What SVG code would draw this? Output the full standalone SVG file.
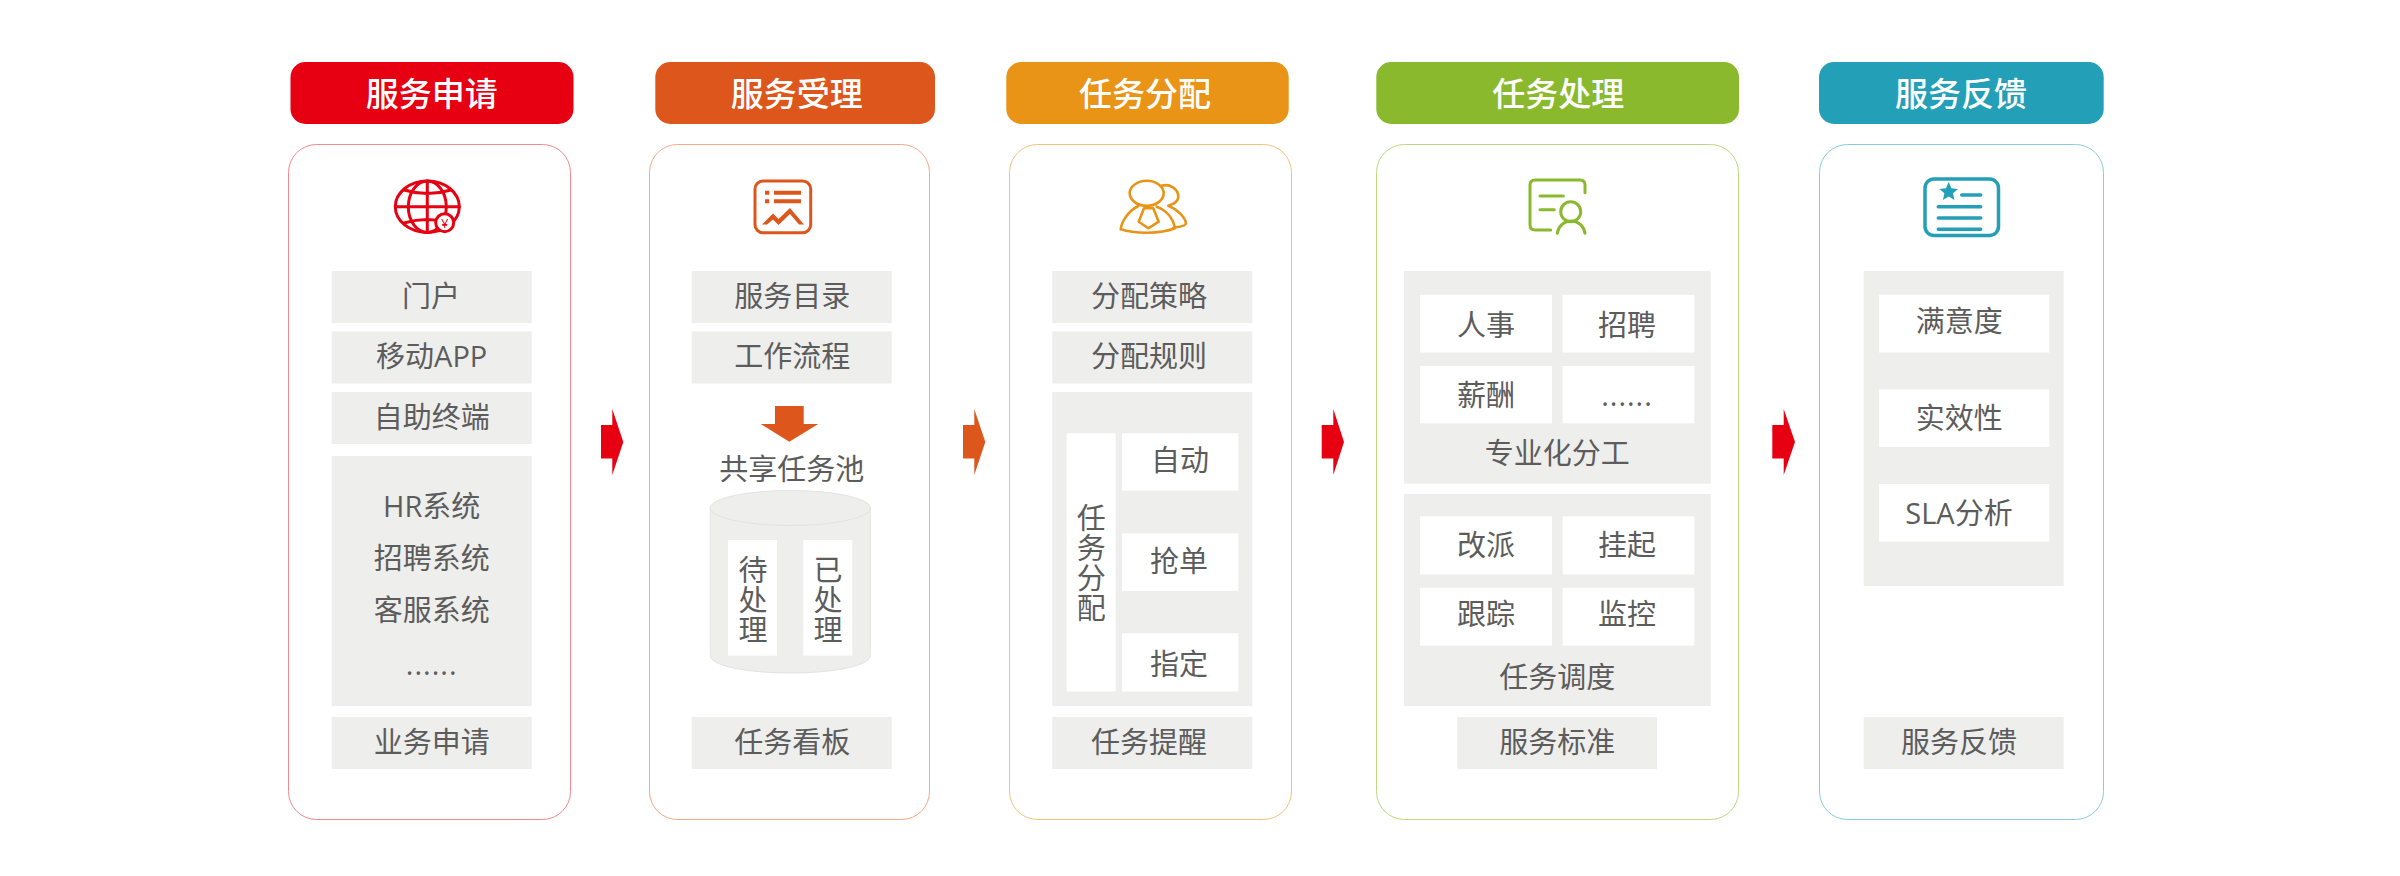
<svg xmlns="http://www.w3.org/2000/svg" width="2400" height="876" viewBox="0 0 2400 876">
<style>
text{font-family:"Open Sans","Noto Sans CJK SC","Noto Sans CJK TC",sans-serif;text-anchor:middle}
.t{font-size:29px;fill:#5c5c5c;font-weight:400}
.v{writing-mode:vertical-rl;letter-spacing:1px}
.d{letter-spacing:1px}
.h{font-size:33px;fill:#fff;font-weight:500}
.g{fill:#eeeeed}
.w{fill:#fff}
.card{fill:#fff;stroke-width:1}
.ic{fill:none;stroke-width:3;stroke-linecap:round;stroke-linejoin:round}
</style>
<rect width="2400" height="876" fill="#fff"/>
<g id="connectors">
<path fill="#e60012" d="M601 425H612.3V409L623.3 442L612.3 475V458.5H601Z"/>
<path fill="#dd561c" d="M963 425H974.3V409L985.3 442L974.3 475V458.5H963Z"/>
<path fill="#e60012" d="M1321.7 425H1333.3V409L1344 442L1333.3 475V458.5H1321.7Z"/>
<path fill="#e60012" d="M1772.3 425H1783.7V409L1795 442L1783.7 475V458.5H1772.3Z"/>
</g>
<g id="col1">
<rect x="290.500" y="62" width="283" height="62" rx="15" fill="#e60012"/>
<text class="h" x="431.700" y="105.500">服务申请</text>
<rect class="card" x="288.500" y="144.500" width="282" height="675" rx="28" stroke="#f08a90"/>
<g class="ic" stroke="#e60012">
<ellipse cx="427.300" cy="206.700" rx="32" ry="25.700"/>
<ellipse cx="427.300" cy="206.700" rx="19" ry="25.700"/>
<path d="M427.300 181V232.400M395.300 206.700H459.300M404 190Q427.300 197 451 190M404 223Q427.300 216 451 223"/>
<circle cx="444.700" cy="222.700" r="9" fill="#fff"/>
</g>
<text x="444.700" y="227.500" style="font-size:13px;fill:#e60012">¥</text>
<rect class="g" x="331.700" y="271" width="200" height="52"/><text class="t" x="431" y="307">门户</text>
<rect class="g" x="331.700" y="331.500" width="200" height="52"/><text class="t" x="431.700" y="367">移动APP</text>
<rect class="g" x="331.700" y="392" width="200" height="52"/><text class="t" x="431.700" y="428">自助终端</text>
<rect class="g" x="331.700" y="456" width="200" height="250"/>
<text class="t" x="431.700" y="516.500">HR系统</text>
<text class="t" x="431.700" y="569">招聘系统</text>
<text class="t" x="431.700" y="621">客服系统</text>
<text class="t d" x="431.700" y="675">......</text>
<rect class="g" x="331.700" y="717" width="200" height="52"/><text class="t" x="431.700" y="752.500">业务申请</text>
</g>
<g id="col2">
<rect x="655.300" y="62" width="279.700" height="62" rx="15" fill="#dd561c"/>
<text class="h" x="796.700" y="105.500">服务受理</text>
<rect class="card" x="649.500" y="144.500" width="280" height="675" rx="28" stroke="#f3a98a"/>
<rect x="755" y="181" width="55.700" height="51.700" rx="8" fill="none" stroke="#dd561c" stroke-width="3"/>
<path fill="#dd561c" d="M765 190.700h4.300v4h-4.300zM765 199.300h4.300v4h-4.300zM774 190.700h27v4h-27zM774 199.300h27v4h-27zM762 224.500L773 213.500L778.500 219L790 208L804 224.500H799L790 214L778.500 225L773 219.500L767 224.500Z"/>
<rect class="g" x="691.700" y="271" width="200" height="52"/><text class="t" x="792.300" y="307">服务目录</text>
<rect class="g" x="691.700" y="331.500" width="200" height="52"/><text class="t" x="792.300" y="367">工作流程</text>
<path fill="#dd561c" d="M775 406H803.700V424H818.300L789.300 441.700L760.700 424H775Z"/>
<text class="t" x="791.700" y="480">共享任务池</text>
<path class="g" stroke="#e3e3e3" stroke-width="1" d="M710.300 508V655.700C710.300 665.500 746 673 790.300 673S870.300 665.500 870.300 655.700V508"/>
<ellipse class="g" stroke="#e3e3e3" stroke-width="1" cx="790.300" cy="508" rx="80" ry="17.500"/>
<rect class="w" x="728" y="540" width="49" height="115.700"/>
<rect class="w" x="803.300" y="540" width="49" height="115.700"/>
<text class="t v" x="751.500" y="600.500">待处理</text>
<text class="t v" x="826.500" y="600.500">已处理</text>
<rect class="g" x="691.700" y="717" width="200" height="52"/><text class="t" x="792.300" y="752.500">任务看板</text>
</g>
<g id="col3">
<rect x="1006.300" y="62" width="282.400" height="62" rx="15" fill="#e99317"/>
<text class="h" x="1145" y="105.500">任务分配</text>
<rect class="card" x="1009.500" y="144.500" width="282" height="675" rx="28" stroke="#f5c27e"/>
<g class="ic" stroke="#e99317" style="stroke-width:2.600">
<path d="M1160.700 186C1170 183 1178.300 189 1178.300 196.700C1178.300 201 1174 204 1168.300 205.700C1177 209 1185 217 1186 223.300C1186 226 1180 227 1173.300 227.700"/>
<ellipse cx="1146.700" cy="193.300" rx="17" ry="12.500"/>
<path d="M1138.300 206C1128 211 1121.500 222 1120.700 229.300C1135 234 1160 234 1175 228.300C1173 218 1166 210 1156.700 206.700"/>
<path d="M1144 208.300H1153.300L1158.700 221.700L1148.300 228.300L1138.700 221.700Z"/>
</g>
<rect class="g" x="1052.300" y="271" width="200" height="52"/><text class="t" x="1149" y="307">分配策略</text>
<rect class="g" x="1052.300" y="331.500" width="200" height="52"/><text class="t" x="1149" y="367">分配规则</text>
<rect class="g" x="1052.300" y="392" width="200" height="314"/>
<rect class="w" x="1066.700" y="433.300" width="49" height="258.200"/>
<rect class="w" x="1122" y="433.300" width="116.300" height="57.400"/><text class="t" x="1180" y="471">自动</text>
<rect class="w" x="1122" y="533.300" width="116.300" height="57.700"/><text class="t" x="1179" y="571.500">抢单</text>
<rect class="w" x="1122" y="633.300" width="116.300" height="58.200"/><text class="t" x="1179" y="674.500">指定</text>
<text class="t v" x="1089.800" y="563">任务分配</text>
<rect class="g" x="1052.300" y="717" width="200" height="52"/><text class="t" x="1149" y="752.500">任务提醒</text>
</g>
<g id="col4">
<rect x="1376.300" y="62" width="362.700" height="62" rx="15" fill="#8ab92d"/>
<text class="h" x="1558.300" y="105.500">任务处理</text>
<rect class="card" x="1376.500" y="144.500" width="362" height="675" rx="28" stroke="#bcd97f"/>
<g class="ic" stroke="#8ab92d">
<path d="M1585 192.700V185Q1585 180 1580 180H1535Q1530 180 1530 185V225Q1530 230 1535 230H1550.700M1540 196H1563.300M1540 209.700H1554.300M1557.300 233.300A14 14.500 0 0 1 1585 233.300"/>
<circle cx="1570.700" cy="211.700" r="10"/>
</g>
<rect class="g" x="1404" y="271" width="306.700" height="212.700"/>
<rect class="w" x="1420" y="294.800" width="132" height="57.800"/><text class="t" x="1486" y="335.500">人事</text>
<rect class="w" x="1562.700" y="294.800" width="131.600" height="57.800"/><text class="t" x="1627" y="335.500">招聘</text>
<rect class="w" x="1420" y="366" width="132" height="57.300"/><text class="t" x="1486" y="406">薪酬</text>
<rect class="w" x="1562.700" y="366" width="131.600" height="57.300"/><text class="t d" x="1627" y="405.500">......</text>
<text class="t" x="1557.300" y="463.500">专业化分工</text>
<rect class="g" x="1404" y="494" width="306.700" height="212"/>
<rect class="w" x="1420" y="516.300" width="132" height="58.100"/><text class="t" x="1486" y="556">改派</text>
<rect class="w" x="1562.700" y="516.300" width="131.600" height="58.100"/><text class="t" x="1627" y="556">挂起</text>
<rect class="w" x="1420" y="587.800" width="132" height="57.800"/><text class="t" x="1486" y="624.500">跟踪</text>
<rect class="w" x="1562.700" y="587.800" width="131.600" height="57.800"/><text class="t" x="1627" y="624.500">监控</text>
<text class="t" x="1557.300" y="687.500">任务调度</text>
<rect class="g" x="1457.300" y="717" width="199.700" height="52"/><text class="t" x="1557.300" y="752.500">服务标准</text>
</g>
<g id="col5">
<rect x="1819" y="62" width="284.700" height="62" rx="15" fill="#249fb8"/>
<text class="h" x="1961" y="105.500">服务反馈</text>
<rect class="card" x="1819.500" y="144.500" width="284" height="675" rx="28" stroke="#8accda"/>
<g class="ic" stroke="#249fb8" style="stroke-width:3.500">
<rect x="1925" y="179" width="73.500" height="56.500" rx="9"/>
<path d="M1961.700 195H1980.700M1938.300 206.700H1980.700M1938.300 218H1980.700M1938.300 229.300H1980.700"/>
</g>
<path fill="#249fb8" d="M1948.700 182L1951.400 188.300L1958 188.900L1953 193.300L1954.500 200L1948.700 196.500L1942.900 200L1944.400 193.300L1939.400 188.900L1946 188.300Z"/>
<rect class="g" x="1863.700" y="271" width="200" height="315"/>
<rect class="w" x="1879" y="294.800" width="170.300" height="57.800"/><text class="t" x="1959.300" y="332">满意度</text>
<rect class="w" x="1879" y="389.300" width="170.300" height="57.700"/><text class="t" x="1959.300" y="428.500">实效性</text>
<rect class="w" x="1879" y="484" width="170.300" height="57.500"/><text class="t" x="1959" y="524">SLA分析</text>
<rect class="g" x="1863.700" y="717" width="200" height="52"/><text class="t" x="1959" y="752.500">服务反馈</text>
</g>
</svg>
